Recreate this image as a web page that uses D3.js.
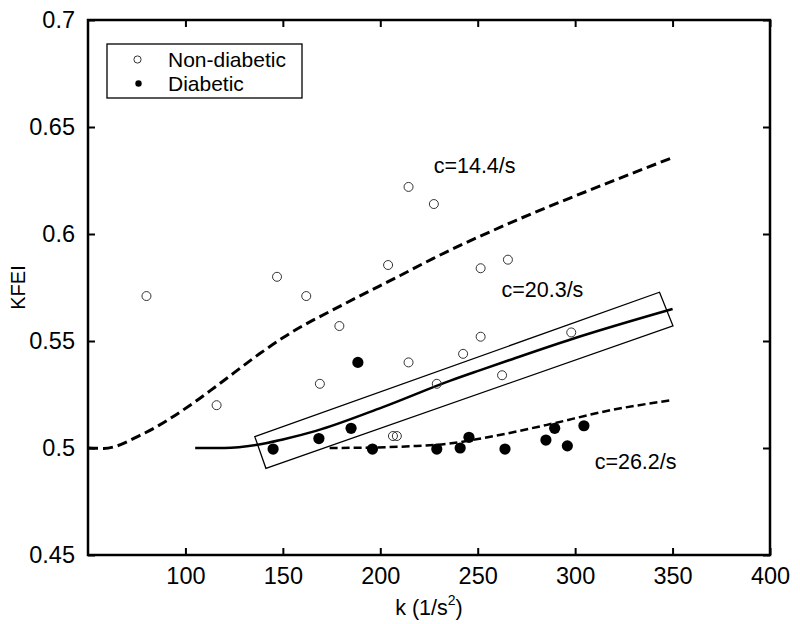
<!DOCTYPE html>
<html>
<head>
<meta charset="utf-8">
<script src="https://cdn.jsdelivr.net/npm/d3@7"></script>
<style>
	body { margin: 0; background: #fff; }
	svg { display: block; font-family: Arial, "Liberation Sans", sans-serif; }
	.tick text { font-size: 23.5px; fill: #000; }
	.tick line { stroke: #000; stroke-width: 2; }
</style>
</head>
<body>
<svg id="viz" width="800" height="624"></svg>
<script>
var xTicks = [ 100, 150, 200, 250, 300, 350, 400 ];
var yTicks = [ 0.45, 0.5, 0.55, 0.6, 0.65, 0.7 ];

// open circles
var nonDiabetic = [
	[ 80, 0.571 ], [ 116, 0.520 ], [ 147, 0.580 ], [ 162, 0.571 ], [ 169, 0.530 ],
	[ 179, 0.557 ], [ 204, 0.5855 ], [ 206.5, 0.5056 ], [ 208.5, 0.5056 ], [ 214.5, 0.622 ],
	[ 214.5, 0.540 ], [ 227.5, 0.614 ], [ 229, 0.530 ], [ 242.5, 0.544 ], [ 251.5, 0.584 ],
	[ 251.5, 0.552 ], [ 262.5, 0.534 ], [ 265.5, 0.588 ], [ 298, 0.554 ]
];

// filled dots
var diabetic = [
	[ 145, 0.4995 ], [ 168.5, 0.5044 ], [ 185, 0.5092 ], [ 188.5, 0.540 ], [ 196, 0.4995 ],
	[ 229, 0.4995 ], [ 241, 0.5 ], [ 245.5, 0.505 ], [ 264, 0.4995 ], [ 285, 0.5037 ],
	[ 289.5, 0.5092 ], [ 296, 0.501 ], [ 304.5, 0.5104 ]
];

var curve144 = [
	[ 50, 0.500 ], [ 58, 0.4998 ], [ 78, 0.5065 ], [ 104, 0.521 ], [ 116, 0.529 ], [ 138, 0.544 ],
	[ 150, 0.5515 ], [ 183, 0.568 ], [ 210, 0.5805 ], [ 227, 0.5885 ], [ 270, 0.6065 ],
	[ 313, 0.6225 ], [ 350, 0.6357 ]
];
var curve203 = [
	[ 105, 0.500 ], [ 120, 0.500 ], [ 137, 0.5015 ], [ 150, 0.504 ], [ 167, 0.508 ],
	[ 201, 0.519 ], [ 236, 0.5315 ], [ 251, 0.5363 ], [ 266, 0.541 ], [ 302, 0.552 ], [ 350, 0.565 ]
];
var curve262 = [
	[ 174, 0.500 ], [ 195, 0.5002 ], [ 215, 0.5008 ], [ 235, 0.502 ], [ 252, 0.5045 ],
	[ 285, 0.5107 ], [ 319, 0.5178 ], [ 350, 0.5224 ]
];

// the tilted box around the c=20.3 curve
var box = [ [ 135.6, 0.5053 ], [ 343.3, 0.5728 ], [ 350.2, 0.5571 ], [ 141.3, 0.4905 ] ];

var curveLabels = [
	{ text: 'c=14.4/s', k: 227.4, v: 0.6285 },
	{ text: 'c=20.3/s', k: 262.2, v: 0.5704 },
	{ text: 'c=26.2/s', k: 310, v: 0.49 }
];

var svg = d3.select( '#viz' );
var mLeft = 88, mRight = 770, mTop = 20, mBottom = 555;

var x = d3.scaleLinear().domain( [ 50, 400 ] ).range( [ mLeft, mRight ] );
var y = d3.scaleLinear().domain( [ 0.45, 0.7 ] ).range( [ mBottom, mTop ] );

// axes, MATLAB style: ticks inside on all four sides
svg.append( 'g' ).attr( 'transform', 'translate(0,' + mBottom + ')' )
	.call( d3.axisBottom( x ).tickValues( xTicks ).tickSizeInner( -7 ).tickSizeOuter( 0 ).tickPadding( 12 ) )
	.call( function ( g ) { g.select( '.domain' ).remove(); } );
svg.append( 'g' ).attr( 'transform', 'translate(0,' + mTop + ')' )
	.call( d3.axisTop( x ).tickValues( xTicks ).tickSizeInner( -7 ).tickSizeOuter( 0 ).tickFormat( '' ) )
	.call( function ( g ) { g.select( '.domain' ).remove(); } );
svg.append( 'g' ).attr( 'transform', 'translate(' + mLeft + ',0)' )
	.call( d3.axisLeft( y ).tickValues( yTicks ).tickSizeInner( -7 ).tickSizeOuter( 0 ).tickPadding( 13 )
		.tickFormat( function ( d ) { return String( +d.toFixed( 2 ) ); } ) )
	.call( function ( g ) { g.select( '.domain' ).remove(); } );
svg.append( 'g' ).attr( 'transform', 'translate(' + mRight + ',0)' )
	.call( d3.axisRight( y ).tickValues( yTicks ).tickSizeInner( -7 ).tickSizeOuter( 0 ).tickFormat( '' ) )
	.call( function ( g ) { g.select( '.domain' ).remove(); } );

svg.append( 'rect' )
	.attr( 'x', mLeft ).attr( 'y', mTop )
	.attr( 'width', mRight - mLeft ).attr( 'height', mBottom - mTop )
	.style( 'fill', 'none' ).style( 'stroke', '#000' ).style( 'stroke-width', 2.5 );

// axis titles
var xTitle = svg.append( 'text' )
	.attr( 'x', ( mLeft + mRight ) / 2 ).attr( 'y', 615 )
	.attr( 'text-anchor', 'middle' ).style( 'font-size', '21.5px' );
xTitle.append( 'tspan' ).text( 'k (1/s' );
xTitle.append( 'tspan' ).attr( 'dy', -10 ).style( 'font-size', '14px' ).text( '2' );
xTitle.append( 'tspan' ).attr( 'dy', 10 ).text( ')' );

svg.append( 'text' )
	.attr( 'transform', 'translate(25,' + ( mTop + mBottom ) / 2 + ') rotate(-90)' )
	.attr( 'text-anchor', 'middle' ).style( 'font-size', '20px' )
	.text( 'KFEI' );

// model curves
var line = d3.line()
	.x( function ( d ) { return x( d[0] ); } )
	.y( function ( d ) { return y( d[1] ); } )
	.curve( d3.curveMonotoneX );

svg.append( 'path' ).datum( curve144 ).attr( 'd', line )
	.style( 'fill', 'none' ).style( 'stroke', '#000' ).style( 'stroke-width', 3 )
	.style( 'stroke-dasharray', '10,5' );
svg.append( 'path' ).datum( curve203 ).attr( 'd', line )
	.style( 'fill', 'none' ).style( 'stroke', '#000' ).style( 'stroke-width', 2.5 );
svg.append( 'path' ).datum( curve262 ).attr( 'd', line )
	.style( 'fill', 'none' ).style( 'stroke', '#000' ).style( 'stroke-width', 2.5 )
	.style( 'stroke-dasharray', '8,4' );

svg.append( 'path' ).datum( box )
	.attr( 'd', d3.line().x( function ( d ) { return x( d[0] ); } ).y( function ( d ) { return y( d[1] ); } ).curve( d3.curveLinearClosed ) )
	.style( 'fill', 'none' ).style( 'stroke', '#000' ).style( 'stroke-width', 1.3 );

// points
svg.selectAll( 'circle.nondiab' )
	.data( nonDiabetic )
	.enter()
	.append( 'circle' )
	.classed( 'nondiab', true )
	.attr( 'cx', function ( d ) { return x( d[0] ); } )
	.attr( 'cy', function ( d ) { return y( d[1] ); } )
	.attr( 'r', 4.5 )
	.style( 'fill', 'none' ).style( 'stroke', '#333' ).style( 'stroke-width', 1 );
svg.selectAll( 'circle.diab' )
	.data( diabetic )
	.enter()
	.append( 'circle' )
	.classed( 'diab', true )
	.attr( 'cx', function ( d ) { return x( d[0] ); } )
	.attr( 'cy', function ( d ) { return y( d[1] ); } )
	.attr( 'r', 5.6 )
	.style( 'fill', '#000' );

svg.selectAll( 'text.curve-label' )
	.data( curveLabels )
	.enter()
	.append( 'text' )
	.classed( 'curve-label', true )
	.attr( 'x', function ( d ) { return x( d.k ); } )
	.attr( 'y', function ( d ) { return y( d.v ); } )
	.style( 'font-size', '21.5px' )
	.text( function ( d ) { return d.text; } );

// legend
var legend = svg.append( 'g' );
legend.append( 'rect' )
	.attr( 'x', 107 ).attr( 'y', 44 ).attr( 'width', 195 ).attr( 'height', 54 )
	.style( 'fill', '#fff' ).style( 'stroke', '#000' ).style( 'stroke-width', 1.3 );
legend.append( 'circle' ).attr( 'cx', 137.5 ).attr( 'cy', 59.5 ).attr( 'r', 3.6 )
	.style( 'fill', 'none' ).style( 'stroke', '#333' ).style( 'stroke-width', 1 );
legend.append( 'circle' ).attr( 'cx', 138.5 ).attr( 'cy', 83.5 ).attr( 'r', 3.2 )
	.style( 'fill', '#000' );
legend.append( 'text' ).attr( 'x', 168 ).attr( 'y', 67 ).style( 'font-size', '21px' ).text( 'Non-diabetic' );
legend.append( 'text' ).attr( 'x', 168 ).attr( 'y', 91 ).style( 'font-size', '21px' ).text( 'Diabetic' );
</script>
</body>
</html>
